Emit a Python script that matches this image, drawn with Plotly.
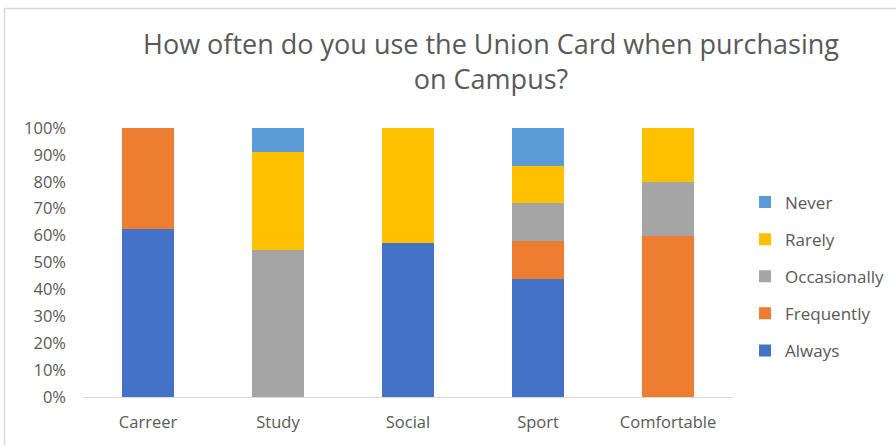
import plotly.graph_objects as go

categories = ["Carreer", "Study", "Social", "Sport", "Comfortable"]
always = [0.625, 0.0, 0.571, 0.44, 0.0]
frequently = [0.375, 0.0, 0.0, 0.14, 0.60]
occasionally = [0.0, 0.545, 0.0, 0.14, 0.20]
rarely = [0.0, 0.364, 0.429, 0.14, 0.20]
never = [0.0, 0.091, 0.0, 0.14, 0.0]

series = [
    ("Always", always, "#4472C4"),
    ("Frequently", frequently, "#ED7D31"),
    ("Occasionally", occasionally, "#A5A5A5"),
    ("Rarely", rarely, "#FFC000"),
    ("Never", never, "#5B9BD5"),
]

FONT = "Open Sans"
fig = go.Figure()
for i, (name, vals, color) in enumerate(series):
    fig.add_trace(go.Bar(
        x=categories, y=vals, name=name, legendgroup=name,
        legendrank=1000 - i,
        marker=dict(color=color, line=dict(width=0)),
        width=0.4,
    ))

# chart-area border (left and top edges visible in the frame)
fig.add_shape(type="rect", xref="paper", yref="paper",
              x0=-0.1208, x1=1.3, y0=-0.3, y1=1.444,
              line=dict(color="#D9D9D9", width=1.5), fillcolor="rgba(0,0,0,0)",
              layer="below")

fig.update_layout(
    width=896, height=445,
    barmode="stack",
    paper_bgcolor="white", plot_bgcolor="white",
    margin=dict(l=83, r=163, t=128, b=48, autoexpand=False),
    title=dict(
        text="How often do you use the Union Card when purchasing<br>on Campus?",
        x=0.548, xref="container", xanchor="center",
        y=0.878, yref="container", yanchor="top",
        font=dict(family=FONT, size=27, color="#595959"),
    ),
    xaxis=dict(
        range=[-0.5, 4.5], showgrid=False, showline=True,
        linecolor="#D9D9D9", linewidth=1, ticks="",
        ticklabelstandoff=10,
        tickfont=dict(family=FONT, size=16.5, color="#595959"),
    ),
    yaxis=dict(
        range=[0, 1], tickformat=".0%", dtick=0.1, showgrid=False,
        showline=False, zeroline=False, ticks="",
        ticklabelstandoff=16,
        tickfont=dict(family=FONT, size=16.5, color="#595959"),
    ),
    legend=dict(
        x=0.8315, xref="container", y=0.79, xanchor="left", yanchor="top",
        traceorder="grouped", tracegroupgap=12,
        font=dict(family=FONT, size=17, color="#595959"),
        itemwidth=30,
    ),
    showlegend=True,
)

fig.write_html("out.html", post_script="document.body.style.margin='0';",
               config={"displayModeBar": False})
